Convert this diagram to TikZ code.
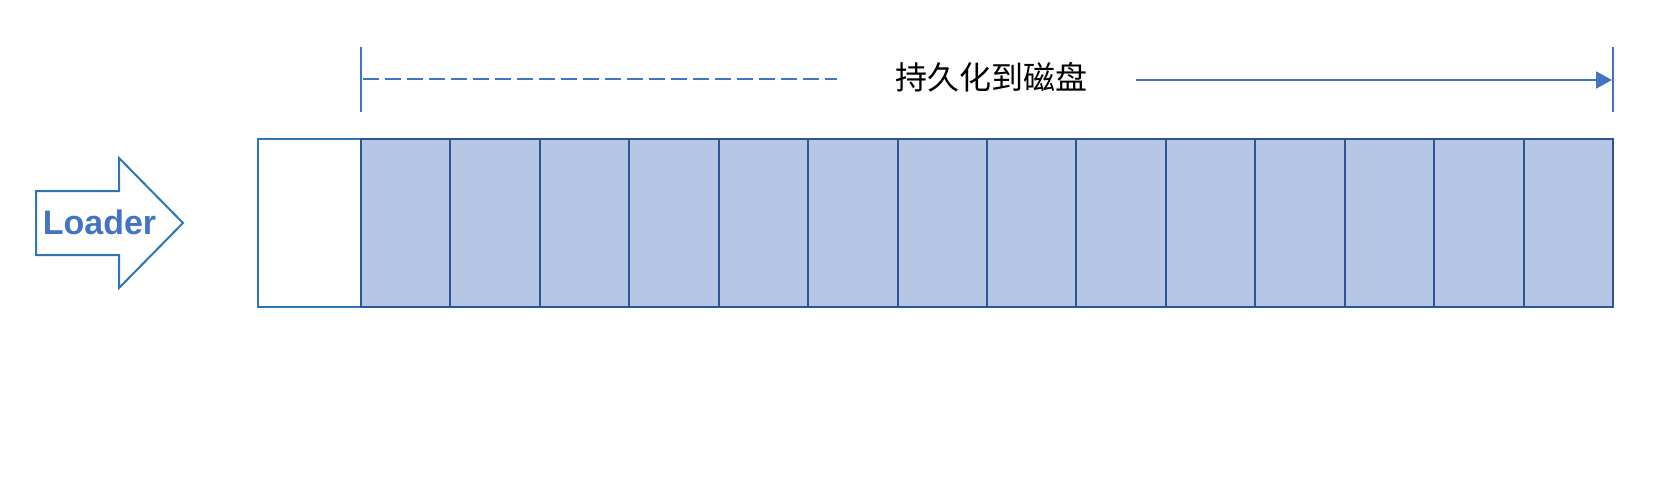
\documentclass[tikz,border=0pt]{standalone}
\usepackage{fontspec}
\setmainfont{Liberation Sans}
\newfontfamily\cjk{Noto Sans CJK SC}
\usetikzlibrary{arrows.meta,chains,positioning}

\definecolor{cellfill}{HTML}{B4C7E7}
\definecolor{celldraw}{HTML}{2F5597}
\definecolor{boxdraw}{HTML}{2E75B6}
\definecolor{dimline}{HTML}{4472C4}

\begin{document}
\begin{tikzpicture}[x=1pt, y=-1pt,
node distance=0pt,
 start chain = C going right,
    E/.style = {rectangle, draw=boxdraw, line width=2pt,% empty slot at the head
                minimum width=103pt, minimum height=168pt,
                outer sep=0pt, on chain},
    F/.style = {rectangle, draw=celldraw, fill=cellfill, line width=2pt,% filled slots
                minimum width=89.43pt, minimum height=168pt,
                outer sep=0pt, on chain},
    D/.style = {draw=dimline, line width=2pt},
                        ]
\useasboundingbox (0,0) rectangle (1678,498);
% Loader arrow
\draw[boxdraw, line width=2pt] (36,191) -- (119,191) -- (119,158) -- (183,223)
      -- (119,288) -- (119,255) -- (36,255) -- cycle;
\node[anchor=base, text=dimline, inner sep=0pt,
      font=\bfseries\fontsize{34}{40}\selectfont] (loader) at (99.5,234) {Loader};
% slots
\node[E, anchor=north west] at (258,139) {};
\foreach \i in {1,...,14}% <-- filled slots
    \node[F] {};
% span to be persisted
\coordinate (dashL) at (363,79);
\coordinate (dashR) at (837,79);
\coordinate (solidL) at (1136,80);
\coordinate (solidR) at (1612,80);
\node[inner sep=0pt, font=\fontsize{32}{38}\selectfont] (persist) at (991,77) {\cjk 持久化到磁盘};
\draw[D] ([yshift=27pt]C-2.north west) -- ([yshift=92pt]C-2.north west);
\draw[D] ([yshift=27pt]C-15.north east) -- ([yshift=92pt]C-15.north east);
\draw[D, dash pattern=on 16pt off 6pt] (dashL) -- (dashR);
\draw[D, -{Triangle[length=16pt,width=17pt]}] (solidL) -- (solidR);
\end{tikzpicture}
\end{document}
